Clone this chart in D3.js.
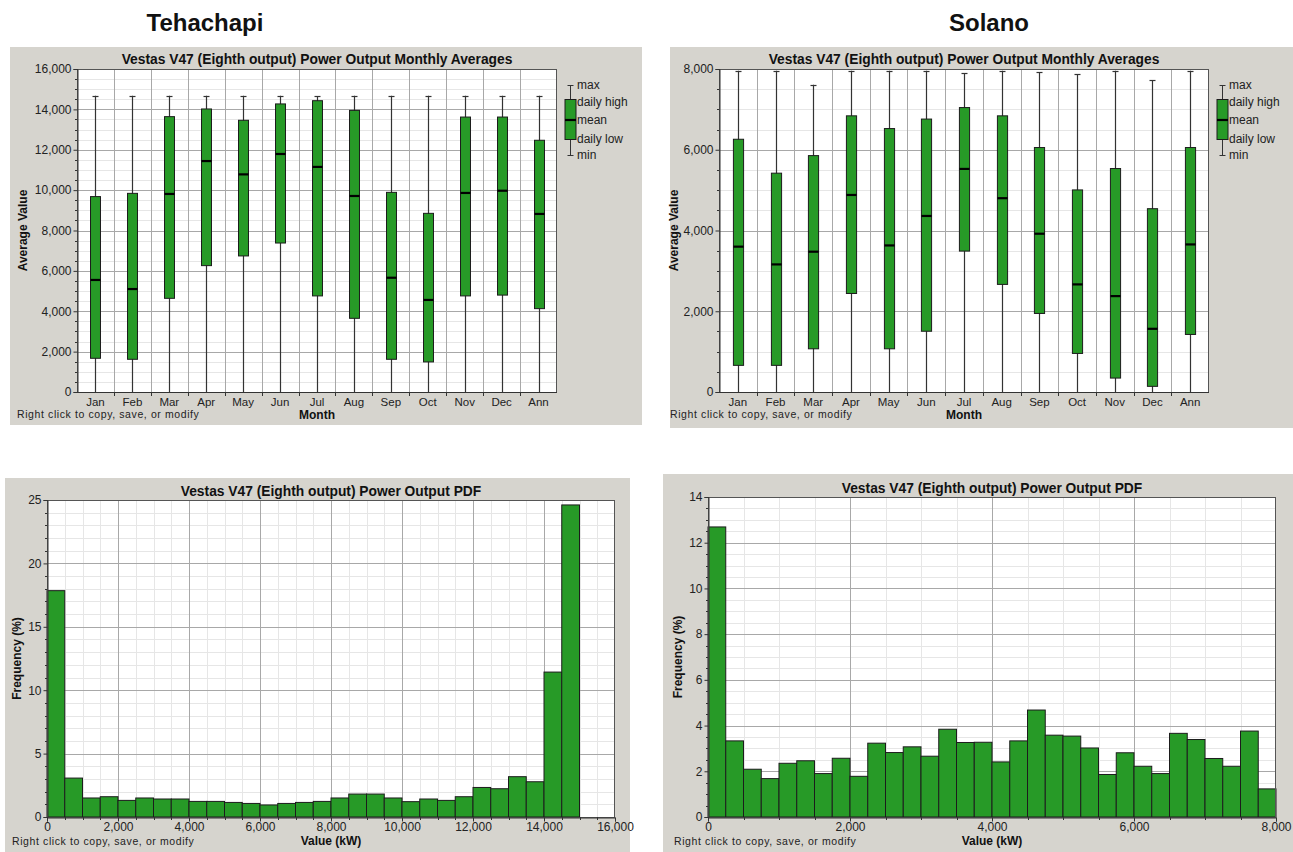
<!DOCTYPE html>
<html><head><meta charset="utf-8">
<script src="https://cdn.jsdelivr.net/npm/d3@7"></script>
<style>
body{margin:0;background:#fff;}
svg text{font-family:"Liberation Sans",Arial,sans-serif;fill:#111;}
</style>
</head><body><svg id="c" width="1293" height="852"></svg>
<script>
// ---------- DATA ----------
const months = ["Jan","Feb","Mar","Apr","May","Jun","Jul","Aug","Sep","Oct","Nov","Dec","Ann"];

const tehMax  = [14670,14670,14670,14670,14670,14670,14660,14670,14670,14670,14670,14670,14670];
const tehHigh = [9680,9840,13640,14020,13460,14270,14430,13950,9890,8850,13620,13620,12470];
const tehMean = [5550,5100,9810,11440,10780,11790,11150,9710,5660,4560,9860,9970,8820];
const tehLow  = [1670,1620,4640,6260,6740,7380,4760,3650,1620,1490,4760,4800,4130];
const tehMin  = [0,0,0,0,0,0,0,0,0,0,0,0,0];

const solMax  = [7957,7957,7610,7957,7957,7957,7890,7957,7920,7875,7957,7730,7957];
const solHigh = [6260,5420,5855,6840,6525,6760,7045,6840,6055,5005,5535,4540,6055];
const solMean = [3600,3160,3475,4880,3630,4360,5525,4800,3920,2665,2375,1565,3655];
const solLow  = [660,660,1070,2440,1070,1505,3490,2665,1945,955,345,140,1425];
const solMin  = [0,0,0,0,0,0,0,0,0,0,0,0,0];

// histogram bins (lower edge, kW) and frequencies (%)
const tehBinStart = [0,500,1000,1500,2000,2500,3000,3500,4000,4500,5000,5500,6000,6500,7000,7500,8000,8500,9000,9500,10000,10500,11000,11500,12000,12500,13000,13500,14000,14500];
const tehFreq = [17.85,3.07,1.50,1.60,1.31,1.50,1.42,1.42,1.23,1.23,1.15,1.07,0.95,1.07,1.15,1.23,1.50,1.81,1.81,1.50,1.21,1.42,1.31,1.60,2.33,2.23,3.18,2.78,11.43,24.61];
const tehBinWidth = 500;

const solBinStart = [0,250,500,750,1000,1250,1500,1750,2000,2250,2500,2750,3000,3250,3500,3750,4000,4250,4500,4750,5000,5250,5500,5750,6000,6250,6500,6750,7000,7250,7500,7750];
const solFreq = [12.69,3.33,2.09,1.68,2.35,2.46,1.90,2.57,1.78,3.23,2.82,3.07,2.66,3.84,3.26,3.27,2.41,3.33,4.68,3.58,3.54,3.02,1.86,2.81,2.22,1.90,3.66,3.39,2.56,2.22,3.76,1.23];
const solBinWidth = 250;

const legendLabels = ["max","daily high","mean","daily low","min"];
const boxTitle = "Vestas V47 (Eighth output) Power Output Monthly Averages";
const pdfTitle = "Vestas V47 (Eighth output) Power Output PDF";
const note = "Right click to copy, save, or modify";

// ---------- STYLE ----------
const PANEL = "#d6d4ce", GREEN = "#279a27", EDGE = "#1c1c1c";
const GRID_MAJOR = "#a8a8a8", GRID_MINOR = "#e6e6e6", AXIS = "#333";
const fmt = d3.format(",");
const svg = d3.select("#c");

svg.append("text").attr("x",205).attr("y",31).attr("text-anchor","middle")
  .style("font-size","24px").style("font-weight","bold").text("Tehachapi");
svg.append("text").attr("x",989).attr("y",31).attr("text-anchor","middle")
  .style("font-size","24px").style("font-weight","bold").text("Solano");

function panel(p){
  svg.append("rect").attr("x",p.x).attr("y",p.y).attr("width",p.w).attr("height",p.h).attr("fill",PANEL);
}
function noteText(g,x,y){
  g.append("text").attr("x",x).attr("y",y).style("font-size","10.5px").style("letter-spacing","0.6px")
    .style("fill","#222").text(note);
}

function drawBox(c){
  panel(c.panel);
  const g = svg.append("g");
  const pl = c.plot;
  const x = d3.scaleBand().domain(months).range([pl.l, pl.r]).padding(0);
  const y = d3.scaleLinear().domain([0, c.yMax]).range([pl.b, pl.t]);
  g.append("rect").attr("x",pl.l).attr("y",pl.t).attr("width",pl.r-pl.l).attr("height",pl.b-pl.t).attr("fill","#fff");
  // minor grid
  g.selectAll(".mn").data(d3.range(0, c.yMax+1, c.minor).filter(v=>v%c.major!==0)).join("line")
    .attr("x1",pl.l).attr("x2",pl.r).attr("y1",d=>Math.round(y(d))+.5).attr("y2",d=>Math.round(y(d))+.5)
    .attr("stroke",GRID_MINOR);
  g.selectAll(".mj").data(d3.range(c.major, c.yMax, c.major)).join("line")
    .attr("x1",pl.l).attr("x2",pl.r).attr("y1",d=>Math.round(y(d))+.5).attr("y2",d=>Math.round(y(d))+.5)
    .attr("stroke",GRID_MAJOR);
  g.selectAll(".vg").data(months.slice(1)).join("line")
    .attr("x1",d=>Math.round(x(d))+.5).attr("x2",d=>Math.round(x(d))+.5).attr("y1",pl.t).attr("y2",pl.b)
    .attr("stroke",GRID_MAJOR);
  // boxes
  const bw = x.bandwidth()*0.27;
  const data = months.map((m,i)=>({m, max:c.max[i], high:c.high[i], mean:c.mean[i], low:c.low[i], min:c.min[i]}));
  const bg = g.selectAll(".bx").data(data).join("g");
  const cx = d=>Math.round(x(d.m)+x.bandwidth()/2)+.5;
  bg.append("line").attr("x1",cx).attr("x2",cx).attr("y1",d=>y(d.max)).attr("y2",d=>y(d.min)).attr("stroke","#333").attr("stroke-width",1.2);
  bg.append("line").attr("x1",d=>cx(d)-3).attr("x2",d=>cx(d)+3).attr("y1",d=>Math.round(y(d.max))+.5).attr("y2",d=>Math.round(y(d.max))+.5).attr("stroke","#333").attr("stroke-width",1.2);
  bg.append("rect").attr("x",d=>cx(d)-bw/2).attr("width",bw)
    .attr("y",d=>y(d.high)).attr("height",d=>y(d.low)-y(d.high))
    .attr("fill",GREEN).attr("stroke",EDGE).attr("stroke-width",1);
  bg.append("line").attr("x1",d=>cx(d)-bw/2).attr("x2",d=>cx(d)+bw/2).attr("y1",d=>y(d.mean)).attr("y2",d=>y(d.mean)).attr("stroke","#000").attr("stroke-width",2.2);
  // plot border
  g.append("rect").attr("x",pl.l+.5).attr("y",pl.t+.5).attr("width",pl.r-pl.l-1).attr("height",pl.b-pl.t).attr("fill","none").attr("stroke","#555");
  // y axis
  const ya = d3.axisLeft(y).tickValues(d3.range(0,c.yMax+1,c.major)).tickFormat(fmt).tickSize(4).tickPadding(2);
  const yg = g.append("g").attr("transform",`translate(${pl.l+.5},0)`).call(ya);
  yg.selectAll(".tick text").style("font-size","12px").style("fill","#222");
  yg.selectAll("path,line").attr("stroke",AXIS);
  g.selectAll(".ymt").data(d3.range(0,c.yMax+1,c.minor).filter(v=>v%c.major!==0)).join("line")
    .attr("x1",pl.l-2).attr("x2",pl.l).attr("y1",d=>Math.round(y(d))+.5).attr("y2",d=>Math.round(y(d))+.5).attr("stroke",AXIS);
  // x axis
  g.append("line").attr("x1",pl.l).attr("x2",pl.r).attr("y1",pl.b+.5).attr("y2",pl.b+.5).attr("stroke",AXIS);
  g.selectAll(".xt").data(months.slice(1)).join("line")
    .attr("x1",d=>Math.round(x(d))+.5).attr("x2",d=>Math.round(x(d))+.5).attr("y1",pl.b).attr("y2",pl.b+4).attr("stroke",AXIS);
  g.selectAll(".xl").data(months).join("text")
    .attr("x",d=>x(d)+x.bandwidth()/2).attr("y",pl.b+13.5).attr("text-anchor","middle")
    .style("font-size","11.5px").style("fill","#222").text(d=>d);
  // labels
  g.append("text").attr("x",(pl.l+pl.r)/2).attr("y",pl.t-5).attr("text-anchor","middle")
    .style("font-size","13.8px").style("font-weight","bold").text(boxTitle);
  g.append("text").attr("transform",`translate(${c.ylabX},${(pl.t+pl.b)/2}) rotate(-90)`).attr("text-anchor","middle")
    .style("font-size","12px").style("font-weight","bold").text("Average Value");
  g.append("text").attr("x",(pl.l+pl.r)/2).attr("y",pl.b+27).attr("text-anchor","middle")
    .style("font-size","12px").style("font-weight","bold").text("Month");
  noteText(g, c.noteX, pl.b+26);
  // legend
  const lx = c.legX, lcx = lx+5.5;
  const ly = d3.scaleOrdinal().domain(legendLabels).range([85,102,120,139,155]);
  g.append("line").attr("x1",lcx).attr("x2",lcx).attr("y1",85).attr("y2",155).attr("stroke","#333");
  g.append("line").attr("x1",lcx-3).attr("x2",lcx+3).attr("y1",85.5).attr("y2",85.5).attr("stroke","#333");
  g.append("line").attr("x1",lcx-3).attr("x2",lcx+3).attr("y1",155.5).attr("y2",155.5).attr("stroke","#333");
  g.append("rect").attr("x",lx).attr("y",99.5).attr("width",11).attr("height",40).attr("fill",GREEN).attr("stroke",EDGE);
  g.append("line").attr("x1",lx).attr("x2",lx+11).attr("y1",120).attr("y2",120).attr("stroke","#000").attr("stroke-width",2.2);
  g.selectAll(".lt").data(legendLabels).join("text")
    .attr("x",lx+12).attr("y",d=>ly(d)+4).style("font-size","12px").style("fill","#222").text(d=>d);
}

function drawHist(c){
  panel(c.panel);
  const g = svg.append("g");
  const pl = c.plot;
  const x = d3.scaleLinear().domain([0,c.xMax]).range([pl.l,pl.r]);
  const y = d3.scaleLinear().domain([0,c.yMax]).range([pl.b,pl.t]);
  g.append("rect").attr("x",pl.l).attr("y",pl.t).attr("width",pl.r-pl.l).attr("height",pl.b-pl.t).attr("fill","#fff");
  const ymn = d3.range(0,c.yMax+1e-9,c.yMinor).filter(v=>Math.abs(v/c.yMajor-Math.round(v/c.yMajor))>1e-6);
  const xmn = d3.range(0,c.xMax+1,c.xMinor).filter(v=>v%c.xMajor!==0);
  g.selectAll(".ymn").data(ymn).join("line").attr("x1",pl.l).attr("x2",pl.r)
    .attr("y1",d=>Math.round(y(d))+.5).attr("y2",d=>Math.round(y(d))+.5).attr("stroke",GRID_MINOR);
  g.selectAll(".xmn").data(xmn).join("line").attr("y1",pl.t).attr("y2",pl.b)
    .attr("x1",d=>Math.round(x(d))+.5).attr("x2",d=>Math.round(x(d))+.5).attr("stroke",GRID_MINOR);
  g.selectAll(".ymj").data(d3.range(c.yMajor,c.yMax,c.yMajor)).join("line").attr("x1",pl.l).attr("x2",pl.r)
    .attr("y1",d=>Math.round(y(d))+.5).attr("y2",d=>Math.round(y(d))+.5).attr("stroke",GRID_MAJOR);
  g.selectAll(".xmj").data(d3.range(c.xMajor,c.xMax,c.xMajor)).join("line").attr("y1",pl.t).attr("y2",pl.b)
    .attr("x1",d=>Math.round(x(d))+.5).attr("x2",d=>Math.round(x(d))+.5).attr("stroke",GRID_MAJOR);
  // bars
  const data = c.start.map((s,i)=>({s, f:c.freq[i]}));
  g.selectAll(".bar").data(data).join("rect")
    .attr("x",d=>x(d.s)).attr("width",d=>x(d.s+c.bw)-x(d.s))
    .attr("y",d=>y(d.f)).attr("height",d=>y(0)-y(d.f))
    .attr("fill",GREEN).attr("stroke",EDGE).attr("stroke-width",1);
  g.append("rect").attr("x",pl.l+.5).attr("y",pl.t+.5).attr("width",pl.r-pl.l-1).attr("height",pl.b-pl.t).attr("fill","none").attr("stroke","#555");
  // y axis
  const ya = d3.axisLeft(y).tickValues(d3.range(0,c.yMax+1e-9,c.yMajor)).tickFormat(d3.format("d")).tickSize(4).tickPadding(2);
  const yg = g.append("g").attr("transform",`translate(${pl.l+.5},0)`).call(ya);
  yg.selectAll(".tick text").style("font-size","12px").style("fill","#222");
  yg.selectAll("path,line").attr("stroke",AXIS);
  g.selectAll(".ymt").data(ymn).join("line").attr("x1",pl.l-2).attr("x2",pl.l)
    .attr("y1",d=>Math.round(y(d))+.5).attr("y2",d=>Math.round(y(d))+.5).attr("stroke",AXIS);
  // x axis
  const xa = d3.axisBottom(x).tickValues(d3.range(0,c.xMax+1,c.xMajor)).tickFormat(fmt).tickSize(4).tickPadding(1);
  const xg = g.append("g").attr("transform",`translate(0,${pl.b+.5})`).call(xa);
  xg.selectAll(".tick text").style("font-size","12px").style("fill","#222");
  xg.selectAll("path,line").attr("stroke",AXIS);
  g.selectAll(".xmt").data(xmn).join("line").attr("y1",pl.b).attr("y2",pl.b+3)
    .attr("x1",d=>Math.round(x(d))+.5).attr("x2",d=>Math.round(x(d))+.5).attr("stroke",AXIS);
  // labels
  g.append("text").attr("x",(pl.l+pl.r)/2).attr("y",pl.t-4).attr("text-anchor","middle")
    .style("font-size","13.8px").style("font-weight","bold").text(pdfTitle);
  g.append("text").attr("transform",`translate(${c.ylabX},${(pl.t+pl.b)/2}) rotate(-90)`).attr("text-anchor","middle")
    .style("font-size","12px").style("font-weight","bold").text("Frequency (%)");
  g.append("text").attr("x",(pl.l+pl.r)/2).attr("y",pl.b+28).attr("text-anchor","middle")
    .style("font-size","12px").style("font-weight","bold").text("Value (kW)");
  noteText(g, c.noteX, pl.b+28);
}

drawBox({panel:{x:10,y:47,w:632,h:378}, plot:{l:77,t:69,r:557,b:392}, yMax:16000, major:2000, minor:500,
  max:tehMax, high:tehHigh, mean:tehMean, low:tehLow, min:tehMin, legX:565, ylabX:27, noteX:17});
drawBox({panel:{x:670,y:47,w:623,h:381}, plot:{l:719,t:69,r:1209,b:392}, yMax:8000, major:2000, minor:500,
  max:solMax, high:solHigh, mean:solMean, low:solLow, min:solMin, legX:1217, ylabX:678, noteX:670});
drawHist({panel:{x:5,y:478,w:625,h:374}, plot:{l:47,t:500,r:615,b:817}, xMax:16000, xMajor:2000, xMinor:500,
  yMax:25, yMajor:5, yMinor:1, start:tehBinStart, freq:tehFreq, bw:tehBinWidth, ylabX:21, noteX:12});
drawHist({panel:{x:663,y:474,w:630,h:378}, plot:{l:708,t:497,r:1276,b:817}, xMax:8000, xMajor:2000, xMinor:500,
  yMax:14, yMajor:2, yMinor:0.5, start:solBinStart, freq:solFreq, bw:solBinWidth, ylabX:682, noteX:674});
</script></body></html>
